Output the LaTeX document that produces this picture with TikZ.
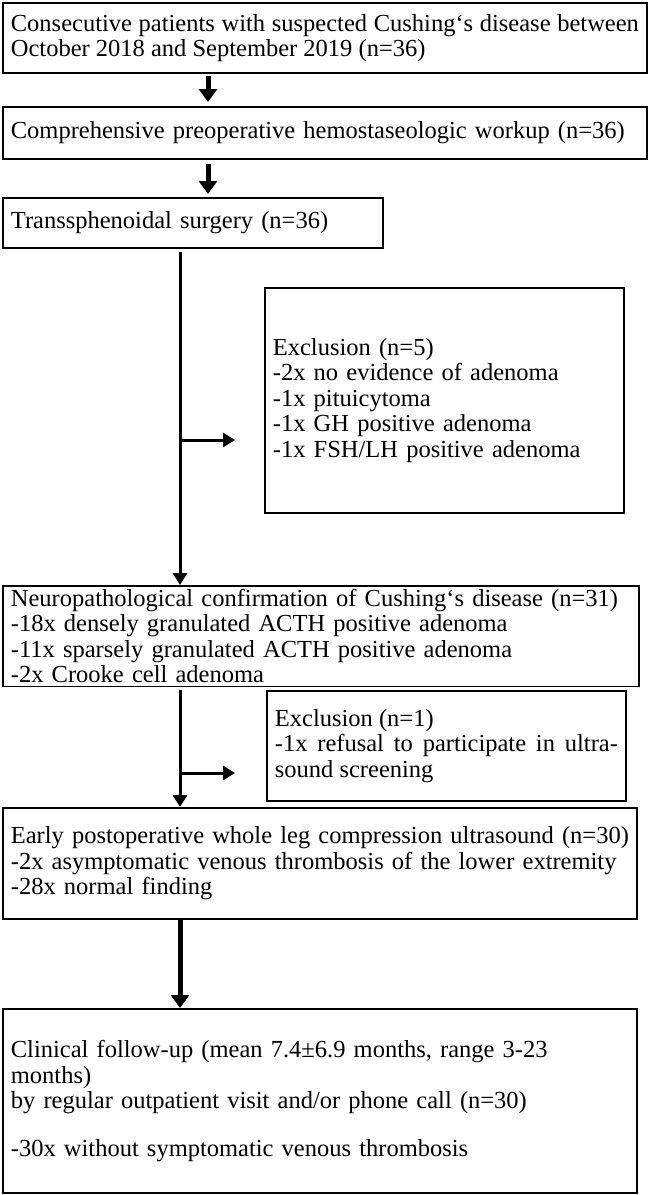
\documentclass[tikz,border=0pt]{standalone}
\usepackage{fontspec}
\setmainfont{Liberation Serif}
\usetikzlibrary{arrows.meta}

\begin{document}
\begin{tikzpicture}[x=1pt, y=-1pt,
    box/.style={draw, line width=1.8pt, anchor=north west, align=left, inner xsep=8pt,
                font=\fontsize{24.5}{25.5}\selectfont},
    flow/.style={line width=5pt, -{Triangle[width=18pt,length=13pt]}},
    side/.style={line width=3pt, -{Triangle[width=14pt,length=12pt]}}]
    \useasboundingbox (0,0) rectangle (648,1195);

    % Main boxes
    \node [box, text width=628pt, minimum height=70pt, align=justify]  (recruit)  at (2,2)
        {Consecutive patients with suspected Cushing`s disease between October 2018 and September 2019 (n=36)};
    \node [box, text width=628pt, minimum height=52pt]  (workup)   at (2,106)
        {Comprehensive preoperative hemostaseologic workup (n=36)};
    \node [box, text width=364pt, minimum height=50pt]  (surgery)  at (2,197)
        {Transsphenoidal surgery (n=36)};
    \node [box, text width=620pt, minimum height=95pt]  (confirm)  at (2,585)
        {Neuropathological confirmation of Cushing`s disease (n=31)\\
         -18x densely granulated ACTH positive adenoma\\
         -11x sparsely granulated ACTH positive adenoma\\
         -2x Crooke cell adenoma};
    \node [box, text width=618pt, minimum height=111pt] (ultra)    at (2,807)
        {Early postoperative whole leg compression ultrasound (n=30)\\
         -2x asymptomatic venous thrombosis of the lower extremity\\
         -28x normal finding};
    \node [box, text width=618pt, minimum height=184pt] (follow)   at (2,1008)
        {Clinical follow-up (mean 7.4\textpm6.9 months, range 3-23 months)\\
         by regular outpatient visit and/or phone call (n=30)\\[22pt]
         -30x without symptomatic venous thrombosis\\[40pt]};

    % Exclusion boxes
    \node [box, text width=343pt, minimum height=225pt] (excl1)    at (264,287)
        {Exclusion (n=5)\\-2x no evidence of adenoma\\-1x pituicytoma\\
         -1x GH positive adenoma\\-1x FSH/LH positive adenoma};
    \node [box, text width=343pt, minimum height=110pt, align=justify] (excl2) at (266,690)
        {Exclusion (n=1)\\-1x refusal to participate in ultrasound screening};

    % Helper coordinates
    \coordinate (a1) at (208,76);
    \coordinate (a2) at (208,164);
    \coordinate (b1) at (180,440);
    \coordinate (b2) at (180,773);
    \coordinate (c1) at (180,920);

    % Paths
    \draw [flow] (a1) -- ++(0,26);
    \draw [flow] (a2) -- ++(0,30);
    \draw [side] (surgery.south -| b1) ++(0,3) -- (confirm.north -| b1);
    \draw [side] (b1) -- ++(55,0);
    \draw [side] (confirm.south -| b2) ++(0,3) -- (ultra.north -| b2);
    \draw [side] (b2) -- ++(55,0);
    \draw [flow] (c1) -- (follow.north -| c1);
\end{tikzpicture}
\end{document}
